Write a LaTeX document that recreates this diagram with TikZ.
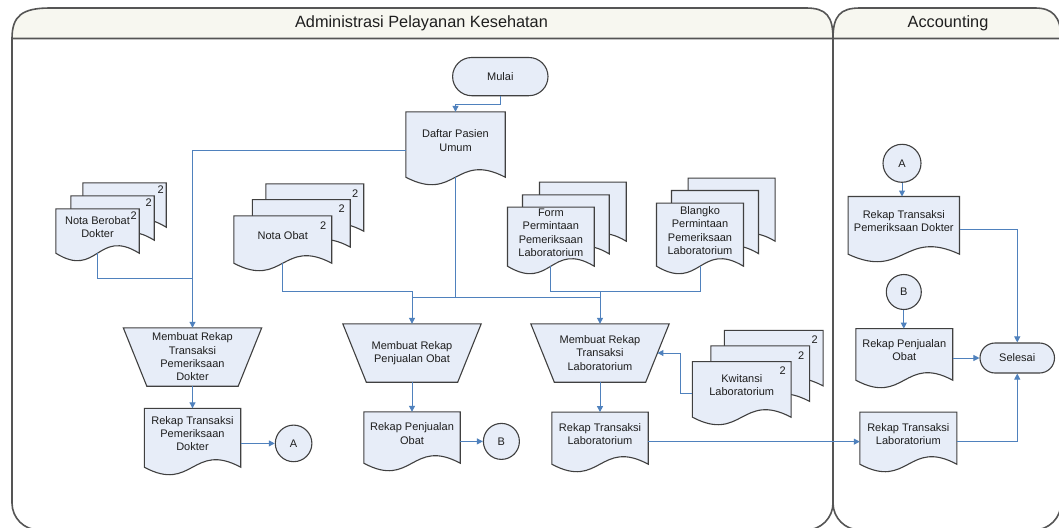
\documentclass[tikz,border=0pt]{standalone}
\usepackage{fontspec}
\setmainfont{Liberation Sans}
\usetikzlibrary{calc,arrows.meta,shapes.misc,shapes.geometric}
\definecolor{connblue}{RGB}{79,129,189}
\definecolor{shfill}{RGB}{231,237,248}
\definecolor{shline}{RGB}{64,64,64}
\definecolor{poolline}{RGB}{85,85,85}
\definecolor{hdrfill}{RGB}{247,247,240}
\definecolor{txt}{RGB}{30,30,30}
\pgfdeclarelayer{poollayer}
\pgfdeclarelayer{shapelayer}
\pgfsetlayers{poollayer,shapelayer,main}
\newcommand\myLbl{\fontsize{11}{13.3}\selectfont}
\newcommand\myTtl{\fontsize{16.3}{19}\selectfont}
\newcommand\docshape[1]{\begin{pgfonlayer}{shapelayer}\path[shapesty] (#1.north west) -- (#1.north east) -- ($(#1.south east)+(0,8)$) .. controls ($(#1.south)+(0,-18)$) and ($(#1.south)+(0,34)$) .. ($(#1.south west)+(0,8)$) -- cycle;\end{pgfonlayer}}
\newcommand\trapshape[1]{\begin{pgfonlayer}{shapelayer}\path[shapesty] (#1.north west) -- (#1.north east) -- ($(#1.south east)+(-23.5,0)$) -- ($(#1.south west)+(23.5,0)$) -- cycle;\end{pgfonlayer}}
\tikzset{
 shapesty/.style={fill=shfill, draw=shline, line width=1.1pt},
 docnode/.style={inner sep=0pt, align=center, font=\myLbl, text=txt},
 term/.style={rounded rectangle, draw=shline, fill=shfill, line width=1.1pt, font=\myLbl, text=txt, inner sep=0pt},
 conn/.style={draw=connblue, line width=1pt},
 arr/.style={-{Triangle[length=6pt,width=6pt]}},
 circ/.style={circle, draw=shline, fill=shfill, line width=1.1pt, inner sep=0pt, font=\myLbl, text=txt},
 numsty/.style={inner sep=0pt, font=\myLbl, text=txt},
 poolsty/.style={draw=poolline, line width=1.6pt},
 titlesty/.style={font=\myTtl, text=txt}
}
\begin{document}
\begin{tikzpicture}[x=1pt,y=-1pt]
\useasboundingbox (0,0) rectangle (1059,527);
% pools
\begin{pgfonlayer}{poollayer}
\fill[white] (0,0) rectangle (1059,527);
\draw[poolsty, fill=hdrfill] (12,38.5) .. controls (12,16) and (22,8) .. (50,8) -- (806,8) .. controls (826,8) and (833,16) .. (833,38.5) -- cycle;
\draw[poolsty, fill=hdrfill] (833,38.5) .. controls (833,16) and (840,8) .. (860,8) -- (1035,8) .. controls (1052,8) and (1061,16) .. (1061,38.5) -- cycle;
\draw[poolsty, rounded corners=27] (12,38.5) -- (12,530) -- (833,530) -- (833,38.5);
\draw[poolsty, rounded corners=27] (833,38.5) -- (833,530) -- (1061,530) -- (1061,38.5);
\end{pgfonlayer}
\node[titlesty] (t1) at (421.5,23) {Administrasi Pelayanan Kesehatan};
\node[titlesty] (t2) at (948,23) {Accounting};

% terminators
\node[term, minimum width=95.4, minimum height=38.2] (mulai) at (500.3,76.6) {Mulai};
\node[term, minimum width=74.5, minimum height=30] (selesai) at (1017.25,358) {Selesai};

% daftar
\node[docnode, minimum width=99, minimum height=57] (daftar) at (455.5,140.5) {Daftar Pasien\\Umum};
\docshape{daftar}

% nota berobat stack
\node[docnode, minimum width=83, minimum height=36] (nb3) at (124.5,201) {};
\node[docnode, minimum width=83, minimum height=36] (nb2) at (112.5,214) {};
\node[docnode, minimum width=83, minimum height=36] (nb1) at (97.5,227) {Nota Berobat\\Dokter};
\docshape{nb3}\docshape{nb2}\docshape{nb1}
\node[numsty] (nb3n) at ($(nb3.north east)+(-5.5,6.5)$) {2};
\node[numsty] (nb2n) at ($(nb2.north east)+(-5.5,6.5)$) {2};
\node[numsty] (nb1n) at ($(nb1.north east)+(-5.5,6.5)$) {2};

% nota obat stack
\node[docnode, minimum width=97.5, minimum height=39] (no3) at (314.75,203.5) {};
\node[docnode, minimum width=97.5, minimum height=39] (no2) at (301.25,219.3) {};
\node[docnode, minimum width=97.5, minimum height=39] (no1) at (282.75,235.5) {Nota Obat};
\docshape{no3}\docshape{no2}\docshape{no1}
\node[numsty] (no3n) at ($(no3.north east)+(-8.5,9.5)$) {2};
\node[numsty] (no2n) at ($(no2.north east)+(-8.5,9.5)$) {2};
\node[numsty] (no1n) at ($(no1.north east)+(-8.5,9.5)$) {2};

% form stack
\node[docnode, minimum width=86.3, minimum height=50.7] (fo3) at (582.85,207.65) {};
\node[docnode, minimum width=86.3, minimum height=50.7] (fo2) at (565.85,220.35) {};
\node[docnode, minimum width=86.3, minimum height=50.7] (fo1) at (550.85,232.65) {Form\\Permintaan\\Pemeriksaan\\Laboratorium};
\docshape{fo3}\docshape{fo2}\docshape{fo1}

% blangko stack
\node[docnode, minimum width=86.6, minimum height=54.7] (bl3) at (731.6,205.65) {};
\node[docnode, minimum width=86.6, minimum height=54.7] (bl2) at (715,218.05) {};
\node[docnode, minimum width=86.6, minimum height=54.7] (bl1) at (700,230.65) {Blangko\\Permintaan\\Pemeriksaan\\Laboratorium};
\docshape{bl3}\docshape{bl2}\docshape{bl1}

% kwitansi stack
\node[docnode, minimum width=98.3, minimum height=47.2] (kw3) at (773.75,354.1) {};
\node[docnode, minimum width=98.3, minimum height=47.2] (kw2) at (760.25,369.6) {};
\node[docnode, minimum width=98.3, minimum height=47.2] (kw1) at (741.75,385.4) {Kwitansi\\Laboratorium};
\docshape{kw3}\docshape{kw2}\docshape{kw1}
\node[numsty] (kw3n) at ($(kw3.north east)+(-8.5,9.5)$) {2};
\node[numsty] (kw2n) at ($(kw2.north east)+(-8.5,9.5)$) {2};
\node[numsty] (kw1n) at ($(kw1.north east)+(-8.5,9.5)$) {2};

% processes
\node[docnode, minimum width=138, minimum height=58] (tdok) at (192.5,357) {Membuat Rekap\\Transaksi\\Pemeriksaan\\Dokter};
\node[docnode, minimum width=138, minimum height=58] (tobat) at (412,353) {Membuat Rekap\\Penjualan Obat};
\node[docnode, minimum width=138, minimum height=58] (tlab) at (600,353) {Membuat Rekap\\Transaksi\\Laboratorium};
\trapshape{tdok}\trapshape{tobat}\trapshape{tlab}

% result documents
\node[docnode, minimum width=96, minimum height=50.5] (rdok) at (192.5,433.75) {Rekap Transaksi\\Pemeriksaan\\Dokter};
\node[docnode, minimum width=96, minimum height=43] (robat) at (412,433.5) {Rekap Penjualan\\Obat};
\node[docnode, minimum width=96, minimum height=43.7] (rlab) at (600,434.15) {Rekap Transaksi\\Laboratorium};
\docshape{rdok}\docshape{robat}\docshape{rlab}
\node[circ, minimum size=36.6] (cA) at (293.6,443.4) {A};
\node[circ, minimum size=36] (cB) at (501.4,441.4) {B};

% accounting
\node[circ, minimum size=38] (cA2) at (902,163.3) {A};
\node[docnode, minimum width=111, minimum height=49.3] (adok) at (903.8,221.35) {Rekap Transaksi\\Pemeriksaan Dokter};
\node[circ, minimum size=35] (cB2) at (903.8,292) {B};
\node[docnode, minimum width=96.5, minimum height=43.2] (aobat) at (904.25,350.4) {Rekap Penjualan\\Obat};
\node[docnode, minimum width=96.6, minimum height=43.7] (alab) at (908.3,434.15) {Rekap Transaksi\\Laboratorium};
\docshape{adok}\docshape{aobat}\docshape{alab}

% junctions
\coordinate (jdok) at (192.5,278.4);
\coordinate (jobat) at (412,291.8);
\coordinate (jdaf) at (455.5,297.6);
\coordinate (jlab) at (600,291.7);
\coordinate (tlabR) at ($(tlab.east)+(-11.75,0)$);

% connectors
\draw[conn,arr] (mulai.south) -- ++(0,8) -| (daftar.north);
\draw[conn,arr] ($(daftar.west)+(0,10)$) -| (tdok.north);
\draw[conn] ($(nb1.south)+(0,8)$) |- (jdok);
\draw[conn,arr] ($(no1.south)+(0,8)$) |- (jobat) -- (tobat.north);
\draw[conn] ($(daftar.south)+(0,8)$) -- (jdaf);
\draw[conn] (jobat |- jdaf) -- (jlab |- jdaf);
\draw[conn] ($(fo1.south)+(0,8)$) |- (jlab);
\draw[conn] ($(bl1.south)+(0,8)$) |- (jlab);
\draw[conn,arr] (jlab) -- (tlab.north);
\draw[conn,arr] (tdok.south) -- (rdok.north);
\draw[conn,arr] (rdok.east |- cA.west) -- (cA.west);
\draw[conn,arr] (tobat.south) -- (robat.north);
\draw[conn,arr] (robat.east |- cB.west) -- (cB.west);
\draw[conn,arr] (tlab.south) -- (rlab.north);
\draw[conn,arr] ($(kw1.west)+(0,8)$) -- ++(-12,0) |- (tlabR);
\draw[conn,arr] ($(rlab.east)+(0,7.5)$) -- ($(alab.west)+(0,7.5)$);
\draw[conn,arr] ($(alab.east)+(0,7)$) -| (selesai.south);
\draw[conn,arr] (cA2.south) -- (cA2.south |- adok.north);
\draw[conn,arr] ($(adok.east)+(0,8)$) -| (selesai.north);
\draw[conn,arr] (cB2.south) -- (cB2.south |- aobat.north);
\draw[conn,arr] (aobat.east |- selesai.west) -- (selesai.west);
\end{tikzpicture}
\end{document}
